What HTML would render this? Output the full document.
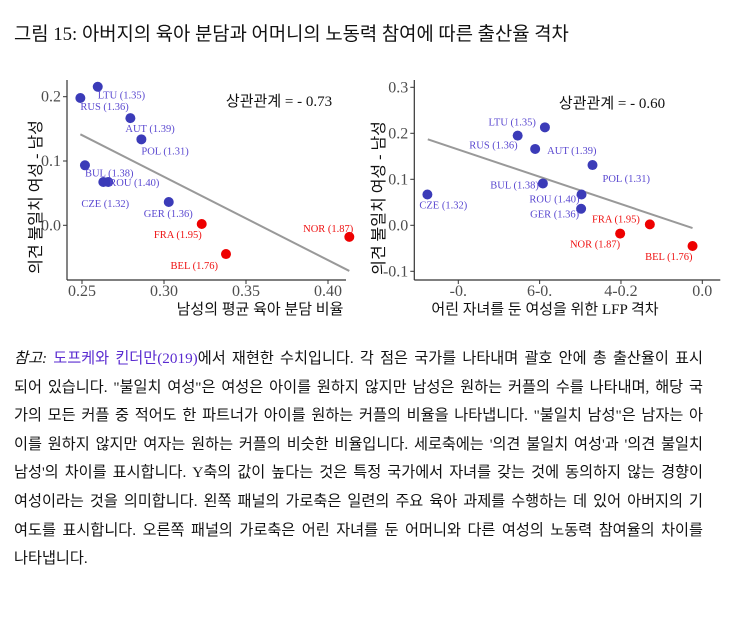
<!DOCTYPE html>
<html><head><meta charset="utf-8">
<style>
body{margin:0;background:#fff;width:731px;height:617px;overflow:hidden;font-family:"Liberation Serif","Noto Sans CJK KR",serif;color:#111}
#title{position:absolute;left:14px;top:19px;font-size:18.8px;white-space:nowrap}
#note{position:absolute;left:14px;top:345px;width:689px;font-size:15.2px}
#note .l{height:28.6px;line-height:28.6px;text-align:justify;text-align-last:justify;white-space:nowrap}
#note .last{text-align-last:left}
svg{position:absolute;left:0;top:0}
svg text{font-family:"Liberation Serif","Noto Sans CJK KR",serif}
</style></head><body>
<div id="title">그림 15: 아버지의 육아 분담과 어머니의 노동력 참여에 따른 출산율 격차</div>
<svg id="chart" width="731" height="330"></svg>
<div id="note">
<div class="l"><i>참고:</i> <span style="color:#5a2bd0">도프케와 킨더만(2019)</span>에서 재현한 수치입니다. 각 점은 국가를 나타내며 괄호 안에 총 출산율이 표시</div>
<div class="l">되어 있습니다. "불일치 여성"은 여성은 아이를 원하지 않지만 남성은 원하는 커플의 수를 나타내며, 해당 국</div>
<div class="l">가의 모든 커플 중 적어도 한 파트너가 아이를 원하는 커플의 비율을 나타냅니다. "불일치 남성"은 남자는 아</div>
<div class="l">이를 원하지 않지만 여자는 원하는 커플의 비슷한 비율입니다. 세로축에는 '의견 불일치 여성'과 '의견 불일치</div>
<div class="l">남성'의 차이를 표시합니다. Y축의 값이 높다는 것은 특정 국가에서 자녀를 갖는 것에 동의하지 않는 경향이</div>
<div class="l">여성이라는 것을 의미합니다. 왼쪽 패널의 가로축은 일련의 주요 육아 과제를 수행하는 데 있어 아버지의 기</div>
<div class="l">여도를 표시합니다. 오른쪽 패널의 가로축은 어린 자녀를 둔 어머니와 다른 여성의 노동력 참여율의 차이를</div>
<div class="l last">나타냅니다.</div>
</div>
<script>
const countries=["LTU","RUS","AUT","POL","BUL","CZE","ROU","GER","FRA","BEL","NOR"];
const tfr=["1.35","1.36","1.39","1.31","1.38","1.32","1.40","1.36","1.95","1.76","1.87"];
const highFert=[0,0,0,0,0,0,0,0,1,1,1];
const yGap=[0.2155,0.198,0.1667,0.1337,0.0933,0.0673,0.0673,0.0362,0.002,-0.0447,-0.018];
const leftX=[0.2596,0.249,0.2795,0.2862,0.2518,0.263,0.266,0.3029,0.323,0.3378,0.413];
const rightX=[-0.387,-0.454,-0.411,-0.270,-0.392,-0.676,-0.297,-0.298,-0.129,-0.024,-0.202];
const rightY=[0.213,0.195,0.166,0.131,0.091,0.067,0.067,0.036,0.002,-0.045,-0.018];
const leftTicksX=[0.25,0.30,0.35,0.40];
const leftTickLabelsX=["0.25","0.30","0.35","0.40"];
const leftTicksY=[0.0,0.1,0.2];
const leftTickLabelsY=["0.0","0.1","0.2"];
const rightTicksX=[-0.6,-0.4,-0.2,0.0];
const rightTickLabelsX=["-0.","6-0.","4-0.2","0.0"];
const rightTicksY=[-0.1,0.0,0.1,0.2,0.3];
const rightTickLabelsY=["-0.1","0.0","0.1","0.2","0.3"];
const leftFit=[[0.249,0.1415],[0.413,-0.071]];
const rightFit=[[-0.675,0.187],[-0.024,-0.006]];
const corrLeft="상관관계 = - 0.73", corrRight="상관관계 = - 0.60";

const NS="http://www.w3.org/2000/svg";
const svg=document.getElementById('chart');
function mk(tag,attrs,parent,text){const e=document.createElementNS(NS,tag);for(const k in attrs)e.setAttribute(k,attrs[k]);if(text!==undefined)e.textContent=text;(parent||svg).appendChild(e);return e;}

const leftLab={LTU:[0,12,"start"],RUS:[0,12,"start"],AUT:[-5,14,"start"],POL:[0,15,"start"],BUL:[0,11,"start"],CZE:[-22,25,"start"],ROU:[1,4,"start"],GER:[-25,15,"start"],FRA:[0,14,"end"],BEL:[-8,15,"end"],NOR:[4,-5,"end"]};
const rightLab={LTU:[-9,-2,"end"],RUS:[0,13,"end"],AUT:[12,5,"start"],POL:[10,17,"start"],BUL:[-4,5,"end"],CZE:[-8,14,"start"],ROU:[-2,8,"end"],GER:[-2,9,"end"],FRA:[-10,-2,"end"],NOR:[0,14,"end"],BEL:[0,14,"end"]};

function panel(name,X0,xr,yr,pxr,pyr,xs,ys,ticksX,tlX,ticksY,tlY,fit,corr,corrPos,lab,xTitle,xTitlePos,yTitlePos){
  const g=mk('g',{});
  
  
  const sx=v=>pxr[0]+(v-xr[0])/(xr[1]-xr[0])*(pxr[1]-pxr[0]);
  const sy=v=>pyr[0]+(v-yr[0])/(yr[1]-yr[0])*(pyr[1]-pyr[0]);
  const axL=X0, axB=280;
  const ya=mk('line',{x1:axL,y1:80,x2:axL,y2:axB,stroke:'#333','stroke-width':1.2},g);
  
  
  const xa=mk('line',{x1:axL,y1:axB,x2:pxr[1]+18,y2:axB,stroke:'#333','stroke-width':1.2},g);
  
  
  ticksX.forEach((t,i)=>{const x=sx(t);
    mk('line',{x1:x,y1:axB,x2:x,y2:axB+4,stroke:'#333'},g);
    const tt=mk('text',{x:x,y:axB+16,'text-anchor':'middle','font-size':16,fill:'#4d4d4d'},g,tlX[i]);
    
    });
  ticksY.forEach((t,i)=>{const y=sy(t);
    mk('line',{x1:axL-4,y1:y,x2:axL,y2:y,stroke:'#333'},g);
    const tt=mk('text',{x:axL-6,y:y+5,'text-anchor':'end','font-size':16,fill:'#4d4d4d'},g,tlY[i]);
    
    });
  const fl=mk('line',{x1:sx(fit[0][0]),y1:sy(fit[0][1]),x2:sx(fit[1][0]),y2:sy(fit[1][1]),stroke:'#999','stroke-width':2},g);
  
  
  countries.forEach((c,i)=>{const x=sx(xs[i]),y=sy(ys[i]);
    const p=mk('circle',{cx:x,cy:y,r:5,fill:highFert[i]?'#ee0000':'#3b3bb8'},g);
    
    
    const o=lab[c];
    const t=mk('text',{x:x+o[0],y:y+o[1],'text-anchor':o[2],'font-size':10.5,fill:highFert[i]?'#ee1111':'#5a48d0'},g,c+' ('+tfr[i]+')');
    
    });
  const ct=mk('text',{x:corrPos[0],y:corrPos[1],'text-anchor':'middle','font-size':15,fill:'#111'},g,corr);
  
  
  const xt=mk('text',{x:xTitlePos[0],y:xTitlePos[1],'text-anchor':'middle','font-size':15,fill:'#111'},g,xTitle);
  
  
  const yt=mk('text',{x:0,y:0,'text-anchor':'middle','font-size':16,fill:'#111',transform:`translate(${yTitlePos[0]},${yTitlePos[1]}) rotate(-90)`},g,'의견 불일치 여성 - 남성');
  
  
}
panel('left-panel',67,[0.25,0.40],[0,0.2],[82,328],[225.3,96.7],leftX,yGap,leftTicksX,leftTickLabelsX,leftTicksY,leftTickLabelsY,leftFit,corrLeft,[279,106],leftLab,'남성의 평균 육아 분담 비율',[260,314],[41,197]);
panel('right-panel',414.3,[-0.6,0.0],[0,0.3],[458.3,702.3],[225.3,87.3],rightX,rightY,rightTicksX,rightTickLabelsX,rightTicksY,rightTickLabelsY,rightFit,corrRight,[612,108],rightLab,'어린 자녀를 둔 여성을 위한 LFP 격차',[545,314],[384,198]);
</script>
</body></html>
